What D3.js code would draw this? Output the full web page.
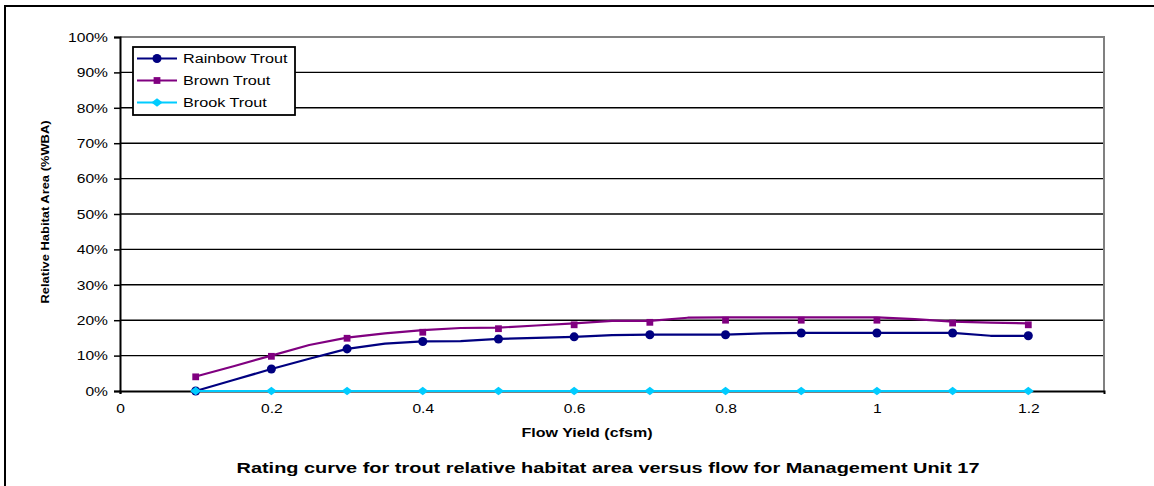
<!DOCTYPE html>
<html>
<head>
<meta charset="utf-8">
<script src="https://cdn.jsdelivr.net/npm/d3@7/dist/d3.min.js"></script>
<style>
  html, body { margin: 0; padding: 0; background: #fff; }
  svg { display: block; font-family: "Liberation Sans", Arial, sans-serif; }
</style>
</head>
<body>
<svg id="chart" width="1154" height="486"></svg>
<script>
// ---- Data ----
const seriesNames = ["Rainbow Trout", "Brown Trout", "Brook Trout"];
const seriesColors = ["#000080", "#800080", "#00CCFF"];

// line vertices (flow yield, cfsm)
const lineFlows = [0.1, 0.15, 0.2, 0.25, 0.3, 0.35, 0.4, 0.45, 0.5, 0.55, 0.6, 0.65,
                   0.7, 0.75, 0.8, 0.85, 0.9, 0.95, 1.0, 1.05, 1.1, 1.15, 1.2];
const rainbowLine = [0, 3.1, 6.2, 9.1, 11.9, 13.4, 14.0, 14.1, 14.7, 15.0, 15.3, 15.8,
                     15.9, 15.9, 15.9, 16.3, 16.4, 16.4, 16.4, 16.4, 16.4, 15.6, 15.6];
const brownLine   = [4.1, 7.0, 10.0, 13.0, 15.1, 16.3, 17.2, 17.8, 17.9, 18.5, 19.1, 19.8,
                     19.8, 20.7, 20.8, 20.8, 20.8, 20.8, 20.8, 20.3, 19.6, 19.3, 19.1];
const brookLine   = [0, 0, 0, 0, 0, 0, 0, 0, 0, 0, 0, 0,
                     0, 0, 0, 0, 0, 0, 0, 0, 0, 0, 0];

// marker points
const markerFlows = [0.1, 0.2, 0.3, 0.4, 0.5, 0.6, 0.7, 0.8, 0.9, 1.0, 1.1, 1.2];
const rainbowMarkers = [0, 6.2, 11.9, 14.0, 14.7, 15.3, 15.9, 15.9, 16.4, 16.4, 16.4, 15.6];
const brownMarkers   = [4.0, 9.8, 14.9, 16.6, 17.6, 18.7, 19.4, 20.0, 20.0, 20.0, 19.2, 18.7];
const brookMarkers   = [0, 0, 0, 0, 0, 0, 0, 0, 0, 0, 0, 0];

const xTicks = [0, 0.2, 0.4, 0.6, 0.8, 1.0, 1.2];
const yTicks = [0, 10, 20, 30, 40, 50, 60, 70, 80, 90, 100];

const chartTitle = "Rating curve for trout relative habitat area versus flow for Management Unit 17";
const xTitle = "Flow Yield (cfsm)";
const yTitle = "Relative Habitat Area (%WBA)";

// ---- Drawing ----
const svg = d3.select("#chart");
const W = 1154, H = 486;
const plot = { left: 120, right: 1104, top: 37, bottom: 391 };

// outer chart border
svg.append("rect").attr("x", 5).attr("y", 6).attr("width", W).attr("height", H)
  .attr("fill", "#fff").attr("stroke", "#000").attr("stroke-width", 2);

const x = d3.scaleLinear().domain([0, 1.3]).range([plot.left, plot.right]);
const y = d3.scaleLinear().domain([0, 100]).range([plot.bottom, plot.top]);

// gridlines
svg.append("g").selectAll("line").data(yTicks.filter(d => d > 0 && d < 100)).join("line")
  .attr("x1", plot.left).attr("x2", plot.right)
  .attr("y1", d => y(d)).attr("y2", d => y(d))
  .attr("stroke", "#000").attr("stroke-width", 1.4);

// plot area top / right border (gray)
svg.append("path")
  .attr("d", `M${plot.left},${y(100)}H${plot.right}V${plot.bottom}`)
  .attr("fill", "none").attr("stroke", "#808080").attr("stroke-width", 2);

// y axis
const yAxis = svg.append("g").attr("transform", `translate(${plot.left},0)`)
  .call(d3.axisLeft(y).tickValues(yTicks).tickFormat(d => d + "%").tickSize(6).tickPadding(0));
yAxis.select(".domain").attr("stroke", "#000").attr("stroke-width", 2);
yAxis.selectAll(".tick line").attr("stroke", "#000").attr("stroke-width", 1.5);
yAxis.selectAll(".tick text")
  .attr("x", 0).attr("dy", "0.35em")
  .attr("transform", "translate(-12,0) scale(1.25,1)")
  .attr("font-size", 12.5).attr("fill", "#000");

// x axis
const xAxis = svg.append("g").attr("transform", `translate(0,${plot.bottom})`)
  .call(d3.axisBottom(x).tickValues(xTicks).tickFormat(d3.format("")).tickSize(3).tickPadding(0));
xAxis.select(".domain").attr("stroke", "#000").attr("stroke-width", 2);
xAxis.selectAll(".tick line").attr("stroke", "#000").attr("stroke-width", 1.5);
xAxis.selectAll(".tick text")
  .attr("y", 0).attr("dy", 0)
  .attr("transform", "translate(0,22) scale(1.25,1)")
  .attr("font-size", 12.5).attr("fill", "#000");

// series
const lineData = [rainbowLine, brownLine, brookLine];
const markerData = [rainbowMarkers, brownMarkers, brookMarkers];
const line = d3.line().x(d => x(d[0])).y(d => y(d[1]));

lineData.forEach((vals, i) => {
  const pts = lineFlows.map((f, k) => [f, vals[k]]);
  svg.append("path").datum(pts)
    .attr("d", line).attr("fill", "none")
    .attr("stroke", seriesColors[i]).attr("stroke-width", 2.2)
    .attr("stroke-linejoin", "round");
});

const symbols = [d3.symbolCircle, d3.symbolSquare, d3.symbolDiamond2 || d3.symbolDiamond];
const symbolSizes = [64, 46, 60];
function drawMarker(g, i, cx, cy) {
  g.append("path")
    .attr("d", d3.symbol().type(symbols[i]).size(symbolSizes[i])())
    .attr("transform", `translate(${cx},${cy})` + (i === 2 ? " scale(1.15,0.9)" : ""))
    .attr("fill", seriesColors[i]);
}
markerData.forEach((vals, i) => {
  const g = svg.append("g");
  markerFlows.forEach((f, k) => drawMarker(g, i, x(f), y(vals[k])));
});

// legend
const legend = svg.append("g");
legend.append("rect").attr("x", 133).attr("y", 47).attr("width", 162).attr("height", 68)
  .attr("fill", "#fff").attr("stroke", "#000").attr("stroke-width", 1.8);
seriesNames.forEach((name, i) => {
  const ly = 58.5 + i * 22;
  legend.append("line").attr("x1", 137).attr("x2", 177).attr("y1", ly).attr("y2", ly)
    .attr("stroke", seriesColors[i]).attr("stroke-width", 2.2);
  drawMarker(legend, i, 157, ly);
  legend.append("text")
    .attr("transform", `translate(183,${ly}) scale(1.2,1)`)
    .attr("dy", "0.35em").attr("font-size", 13.5).attr("fill", "#000")
    .text(name);
});

// axis titles & chart title
svg.append("text")
  .attr("x", 587).attr("y", 437).attr("text-anchor", "middle")
  .attr("font-size", 13.5).attr("font-weight", "bold")
  .attr("textLength", 131).attr("lengthAdjust", "spacingAndGlyphs")
  .text(xTitle);

svg.append("text")
  .attr("transform", "translate(49,212) rotate(-90)")
  .attr("text-anchor", "middle")
  .attr("font-size", 11.5).attr("font-weight", "bold")
  .attr("textLength", 183).attr("lengthAdjust", "spacingAndGlyphs")
  .text(yTitle);

svg.append("text")
  .attr("x", 608).attr("y", 473).attr("text-anchor", "middle")
  .attr("font-size", 15).attr("font-weight", "bold")
  .attr("textLength", 743).attr("lengthAdjust", "spacingAndGlyphs")
  .text(chartTitle);
</script>
</body>
</html>
